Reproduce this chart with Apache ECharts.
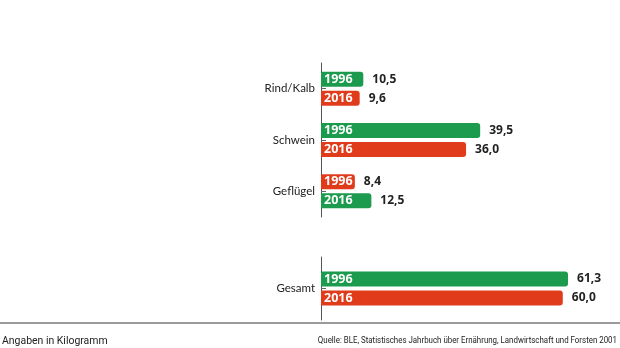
<!DOCTYPE html>
<html><head><meta charset="utf-8">
<script src="https://cdn.jsdelivr.net/npm/echarts@6/dist/echarts.min.js"></script>
<style>html,body{margin:0;padding:0;background:#fff}#c{width:620px;height:348px}</style>
</head><body><div id="c"></div>
<script>
const categories = ["Rind/Kalb", "Schwein", "Geflügel"];
const totalCategory = ["Gesamt"];
const years = ["1996", "2016"];
const v1996 = [10.5, 39.5, 8.4];
const v2016 = [9.6, 36.0, 12.5];
const total1996 = [61.3];
const total2016 = [60.0];
const unitNote = "Angaben in Kilogramm";
const sourceNote = "Quelle: BLE, Statistisches Jahrbuch über Ernährung, Landwirtschaft und Forsten 2001";

const GREEN = "#1c9a4e", RED = "#e03c1c";
const FONT = "Noto Sans";
const chart = echarts.init(document.getElementById('c'));

function fmt(v) { return v.toFixed(1).replace('.', ','); }

function barSeries(name, vals, other, idx) {
  return {
    name: name, type: 'bar', xAxisIndex: idx, yAxisIndex: idx, stack: name + '_' + idx,
    data: vals.map((v, i) => ({ value: v, itemStyle: { color: v >= other[i] ? GREEN : RED } })),
    barWidth: 15, barGap: '27%',
    itemStyle: { borderRadius: [0, 3, 3, 0] },
    label: {
      show: true, position: 'insideLeft', distance: 3,
      formatter: name, color: '#fff', fontWeight: 'bold', fontSize: 12.5, fontFamily: FONT
    }
  };
}
function valueLabelSeries(name, vals, idx) {
  return {
    name: name + ' Wert', type: 'bar', xAxisIndex: idx, yAxisIndex: idx, stack: name + '_' + idx,
    data: vals.map(() => 0), barWidth: 15, barGap: '27%',
    itemStyle: { color: 'rgba(0,0,0,0)' },
    label: {
      show: true, position: 'right', distance: 9,
      formatter: p => fmt(vals[p.dataIndex]), color: '#222', fontWeight: 'bold', fontSize: 12, fontFamily: FONT
    },
    silent: true
  };
}

const xMax = 74.2;
const yAxisCommon = {
  type: 'category', inverse: true,
  axisLine: { show: true, lineStyle: { color: '#555', width: 1 } },
  axisTick: { show: true, inside: true, length: 5, alignWithLabel: true, lineStyle: { color: '#666' } },
  axisLabel: { color: '#222', fontSize: 11.5, fontFamily: 'Lato', margin: 6 }
};

const series = [];
[
  { idx: 0, a: v1996, b: v2016 },
  { idx: 1, a: total1996, b: total2016 }
].forEach(g => {
  series.push(barSeries(years[0], g.a, g.b, g.idx), valueLabelSeries(years[0], g.a, g.idx));
  series.push(barSeries(years[1], g.b, g.a, g.idx), valueLabelSeries(years[1], g.b, g.idx));
});

chart.setOption({
  animation: false,
  grid: [
    { left: 321, right: 0, top: 63, height: 154 },
    { left: 321, right: 0, top: 257, height: 63 }
  ],
  xAxis: [
    { gridIndex: 0, type: 'value', min: 0, max: xMax, show: false },
    { gridIndex: 1, type: 'value', min: 0, max: xMax, show: false }
  ],
  yAxis: [
    Object.assign({ gridIndex: 0, data: categories }, yAxisCommon),
    Object.assign({ gridIndex: 1, data: totalCategory }, yAxisCommon)
  ],
  series: series,
  graphic: [
    { type: 'rect', shape: { x: 0, y: 322, width: 620, height: 2 }, style: { fill: '#9a9a9a' } },
    { type: 'text', x: 2, y: 341, scaleX: 0.95, originX: 0, originY: 0,
      style: { text: unitNote, fill: '#222', font: '11px Roboto', align: 'left', verticalAlign: 'middle' } },
    { type: 'text', x: 617, y: 341, scaleX: 0.93, originX: 0, originY: 0,
      style: { text: sourceNote, fill: '#222', font: '8.5px Roboto', align: 'right', verticalAlign: 'middle' } }
  ]
});
</script></body></html>
